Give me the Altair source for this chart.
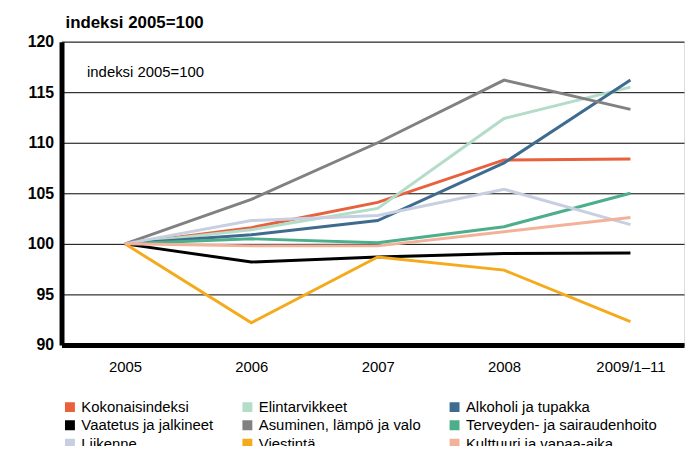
import altair as alt
import pandas as pd

periods = ["2005", "2006", "2007", "2008", "2009/1–11"]
series_names = [
    "Kokonaisindeksi", "Elintarvikkeet", "Alkoholi ja tupakka",
    "Vaatetus ja jalkineet", "Asuminen, lämpö ja valo", "Terveyden- ja sairaudenhoito",
    "Liikenne", "Viestintä", "Kulttuuri ja vapaa-aika",
]
colors = ["#e8603c", "#b3dcc9", "#3f6b8f",
          "#000000", "#818181", "#4cae8b",
          "#c7cfe0", "#f5aa1c", "#f4b199"]

kokonais = [100, 101.6, 104.1, 108.3, 108.4]
elintarvikkeet = [100, 101.4, 103.5, 112.4, 115.5]
alkoholi = [100, 100.9, 102.3, 108.0, 116.2]
vaatetus = [100, 98.2, 98.7, 99.05, 99.1]
asuminen = [100, 104.4, 110.0, 116.2, 113.3]
terveys = [100, 100.5, 100.1, 101.7, 105.0]
liikenne = [100, 102.3, 102.8, 105.4, 101.9]
viestinta = [100, 92.2, 98.7, 97.4, 92.3]
kulttuuri = [100, 99.8, 99.8, 101.2, 102.6]

all_values = [kokonais, elintarvikkeet, alkoholi, vaatetus, asuminen,
              terveys, liikenne, viestinta, kulttuuri]

rows = []
for name, vals in zip(series_names, all_values):
    for i, v in enumerate(vals):
        rows.append({"sarja": name, "i": i, "arvo": v})
df = pd.DataFrame(rows)

note_df = pd.DataFrame({"i": [-0.3], "arvo": [117], "teksti": ["indeksi 2005=100"]})

FONT = "Liberation Sans"
label_expr = "[" + ",".join("'" + p + "'" for p in periods) + "][datum.value]"

x_scale = alt.Scale(domain=[-0.502, 4.424], nice=False, zero=False)
y_scale = alt.Scale(domain=[90, 120], nice=False, zero=False)

lines = alt.Chart(df).mark_line(strokeWidth=3).encode(
    x=alt.X("i:Q", scale=x_scale,
            axis=alt.Axis(title=None, values=[0, 1, 2, 3, 4], labelExpr=label_expr,
                          grid=False, ticks=False, domainWidth=5, domainColor="black",
                          labelFontSize=15, labelFont=FONT, labelColor="black",
                          labelPadding=15)),
    y=alt.Y("arvo:Q", scale=y_scale,
            axis=alt.Axis(title=None, values=[90, 95, 100, 105, 110, 115, 120],
                          grid=True, gridColor="black", gridWidth=1, ticks=False,
                          domainWidth=5, domainColor="black",
                          labelFontSize=16, labelFontWeight="bold", labelFont=FONT,
                          labelColor="black", labelPadding=8)),
    color=alt.Color("sarja:N", scale=alt.Scale(domain=series_names, range=colors),
                    legend=alt.Legend(title=None, orient="none", legendX=1, legendY=361,
                                      direction="horizontal",
                                      columns=3, columnPadding=26, rowPadding=2.5,
                                      clipHeight=15, labelLimit=400,
                                      symbolType="square", symbolSize=4,
                                      symbolStrokeWidth=8, labelOffset=4,
                                      labelFontSize=15, labelFont=FONT,
                                      labelColor="black", padding=0)),
    order=alt.Order("i:Q"),
)

note = alt.Chart(note_df).mark_text(align="left", baseline="middle", fontSize=15,
                                     font=FONT, color="black").encode(
    x=alt.X("i:Q", scale=x_scale),
    y=alt.Y("arvo:Q", scale=y_scale),
    text="teksti:N",
)

chart = alt.layer(lines, note).properties(
    width=628, height=306,
    autosize=alt.AutoSizeParams(type="none"),
    padding={"left": 54, "top": 32, "right": 2, "bottom": 100},
    title=alt.TitleParams("indeksi 2005=100", anchor="start", frame="group",
                          fontSize=17, fontWeight="bold", font=FONT, color="black",
                          offset=2, dx=4),
).configure_view(stroke=None).configure(background="white")

chart.save("out.html", embed_options={"renderer": "svg", "actions": False})
